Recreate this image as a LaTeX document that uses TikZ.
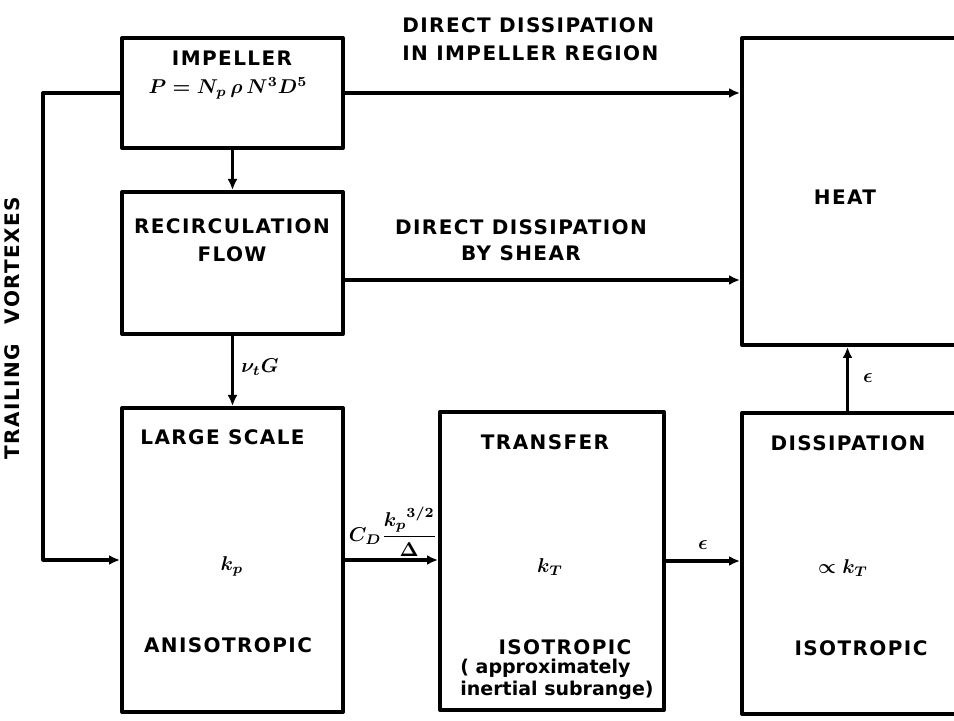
\documentclass[tikz,border=0pt]{standalone}
\usepackage{amsmath,amssymb}
\usepackage{fontspec}
\setmainfont{DejaVu Sans}[LetterSpace=7]
\usetikzlibrary{calc,arrows.meta}

\begin{document}
\boldmath
\begin{tikzpicture}[x=0.5pt, y=-0.5pt, line join=round,
  box/.style={draw, line width=2pt, rectangle, inner sep=0pt},
  arr/.style={line width=1.6pt, -{Latex[length=5.5pt,width=5pt]}},
  txt/.style={font=\bfseries\fontsize{10}{12}\selectfont, inner sep=0pt},
  note/.style={font=\bfseries\fontsize{9.5}{11}\selectfont\addfontfeature{LetterSpace=0}, inner sep=0pt}]
  \useasboundingbox (0,0) rectangle (954,721);
  \clip (0,0) rectangle (954,721);

  % Boxes (heat and dissipation run past the right edge)
  \node[box, minimum width=110.5pt, minimum height=55pt]  (impeller) at (232.5,93) {};
  \node[box, minimum width=110.5pt, minimum height=71pt]  (recirc)   at (232.5,263) {};
  \node[box, minimum width=110.5pt, minimum height=152pt] (large)    at (232.5,560) {};
  \node[box, minimum width=112pt,   minimum height=149pt] (transfer) at (552,561) {};
  \node[box, minimum width=116.5pt, minimum height=150.5pt] (diss)   at (858.5,563.5) {};
  \node[box, minimum width=116.5pt, minimum height=153.5pt] (heat)   at (858.5,191.5) {};

  % Texts inside the boxes
  \node[txt] (impname) at (232,58) {IMPELLER};
  \node[txt] (impform) at (228,88) {$P = N_p\,\rho\,N^3 D^5$};
  \node[txt, align=center] (recname) at (232,240) {RECIRCULATION\\[2pt]FLOW};
  \node[txt, anchor=west] (lgname) at (140,437) {LARGE SCALE};
  \node[txt] (lgk)    at (232,566) {$k_p$};
  \node[txt] (lgiso)  at (228,645) {ANISOTROPIC};
  \node[txt] (trname) at (545,442) {TRANSFER};
  \node[txt] (trk)    at (550,567) {$k_T$};
  \node[txt] (triso)  at (565,647) {ISOTROPIC};
  \node[note, align=left, anchor=north west] (trnote) at (460,659)
    {( approximately\\inertial subrange)};
  \node[txt] (dsname) at (848,443) {DISSIPATION};
  \node[txt] (dsk)    at (843,568) {$\propto k_T$};
  \node[txt] (dsiso)  at (861,648) {ISOTROPIC};
  \node[txt] (htname) at (845,197) {HEAT};

  % Connectors
  \draw[arr] (impeller) -- (recirc);
  \draw[arr] (recirc) -- (large);
  \draw[arr] (impeller.east) -- (impeller.east -| heat.west);
  \draw[arr] ([yshift=-8.5pt]recirc.east) -- ([yshift=-8.5pt]recirc.east -| heat.west);
  \draw[arr] (large.east) -- (large.east -| transfer.west);
  \draw[arr] (transfer.east) -- (transfer.east -| diss.west);
  \draw[arr] ([xshift=-5.5pt]diss.north) -- ([xshift=-5.5pt]heat.south);

  % Trailing vortexes loop on the left
  \coordinate (tvtop) at (43,93);
  \coordinate (tvbot) at (43,560);
  \draw[arr] (impeller.west) -- (tvtop) -- (tvbot) -- (large.west);

  % Connector labels
  \node[txt, align=left, anchor=west] (dirimp) at (402,39)
    {DIRECT DISSIPATION\\[2pt]IN IMPELLER REGION};
  \node[txt, align=center] (dirshear) at (521,240)
    {DIRECT DISSIPATION\\[1pt]BY SHEAR};
  \node[txt] (nutg) at (260,367) {$\nu_t G$};
  \node[txt] (cdlab) at (393,532) {$C_D\dfrac{{k_p}^{3/2}}{\Delta}$};
  \node[txt] (epstr) at (703,545) {$\epsilon$};
  \node[txt] (epsht) at (868,378) {$\epsilon$};
  \node[txt, rotate=90] (tvlab) at (12,328) {TRAILING\quad VORTEXES};
\end{tikzpicture}
\end{document}
